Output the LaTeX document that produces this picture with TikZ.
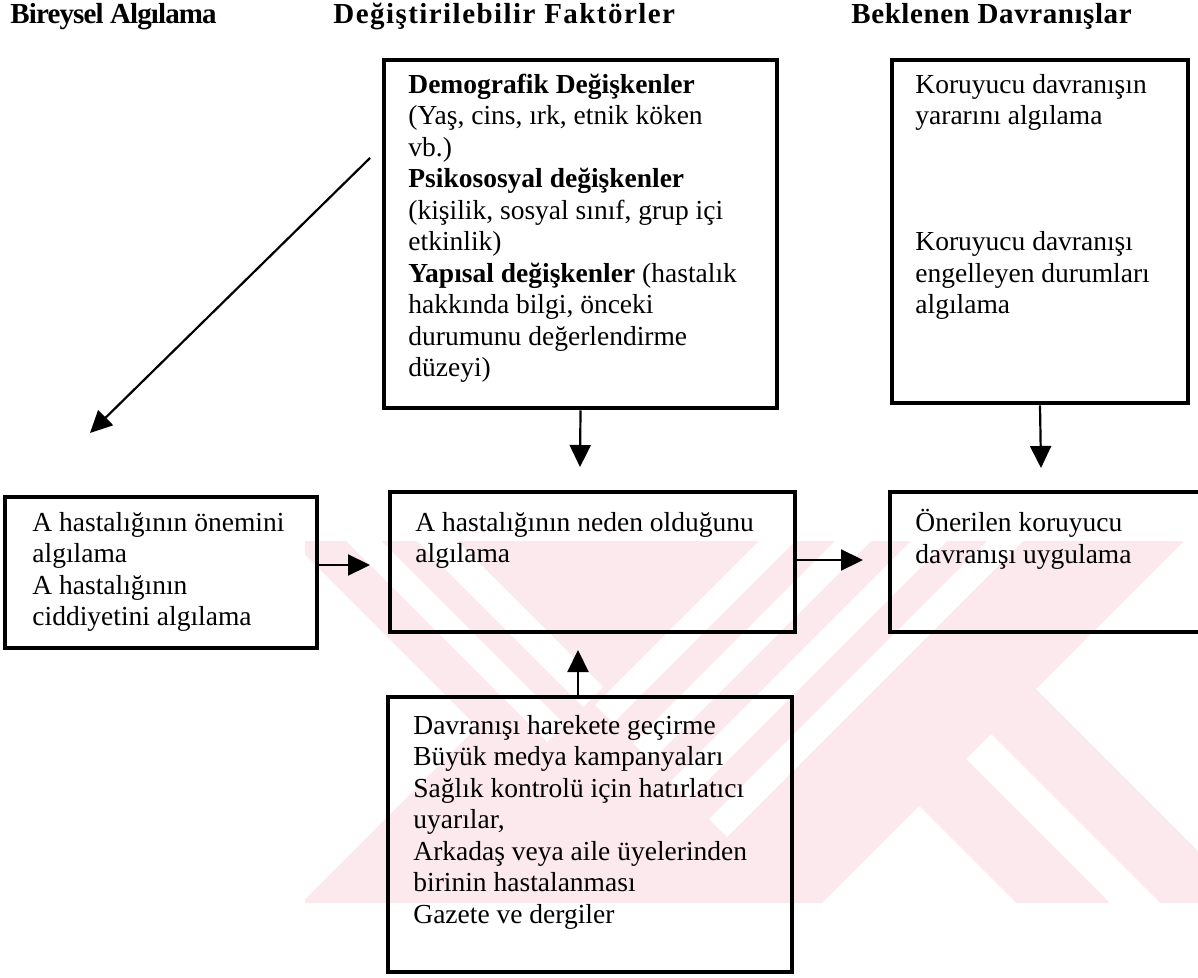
\documentclass[tikz,border=0pt]{standalone}
\usepackage{fontspec}
\setmainfont{Liberation Serif}
\usetikzlibrary{arrows.meta,fit}
\definecolor{wm}{RGB}{252,233,237}
\begin{document}
\begin{tikzpicture}[x=0.5pt,y=-0.5pt,
  box/.style={draw, line width=2.3pt, inner sep=0pt},
  txt/.style={anchor=north west, inner sep=0pt, align=left,
    font=\fontsize{13.75}{15.75}\selectfont},
  head/.style={anchor=base west, inner sep=0pt,
    font=\fontsize{14.5}{17}\selectfont\bfseries},
  conn/.style={line width=1.1pt, -{Triangle[length=11pt,width=10.5pt]}},
  gap/.style={fill=white, draw=none}]
\useasboundingbox (0,0) rectangle (1198,978);

% pale striped emblem in the background
\begin{scope}
  \fill[wm] (305,541) rectangle (1198,903);
  % open wedges between the arms
  \fill[gap] (305,555) -- (477,727) -- (305,899) -- cycle;
  \fill[gap] (822,903) -- (919,806) -- (1016,903) -- cycle;
  \fill[gap] (1036,689) -- (1184,541) -- (1198,541) -- (1198,851) -- cycle;
  \fill[gap] (966,759) -- (991,734) -- (1160,903) -- (1110,903) -- cycle;
  % thin gaps in the falling arm
  \fill[gap] (346,541) -- (381,541) -- (565,725) -- (547,742) -- cycle;
  \fill[gap] (417,541) -- (457,541) -- (603,687) -- (583,707) -- cycle;
  % thin gaps in the rising arm
  \fill[gap] (759,541) -- (795,541) -- (613,723) -- (595,705) -- cycle;
  \fill[gap] (835,541) -- (871,541) -- (651,761) -- (633,743) -- cycle;
  \fill[gap] (911,541) -- (947,541) -- (689,799) -- (671,781) -- cycle;
  \fill[gap] (987,541) -- (1023,541) -- (727,837) -- (709,819) -- cycle;
\end{scope}

% boxes
\node[box, fit={(384,60) (777,408)}] (D) {};
\node[box, fit={(892,60) (1188,403)}] (R) {};
\node[box, fit={(5,497) (317,648)}] (L) {};
\node[box, fit={(390,492) (795,632)}] (M) {};
\node[box, fit={(890,492) (1215,632)}] (O) {};
\node[box, fit={(388,697) (792,972)}] (B) {};

% column headings
\node[head] (h1) at (10,24) {\addfontfeatures{LetterSpace=-3}Bireysel Algılama};
\node[head] (h2) at (333,24) {\addfontfeatures{LetterSpace=5}Değiştirilebilir Faktörler};
\node[head] (h3) at (851,24) {\addfontfeatures{LetterSpace=2}Beklenen Davranışlar};

% box texts
\node[txt] (Dt) at (408,71) {\strut\textbf{Demografik Değişkenler}\\
  \strut(Yaş, cins, ırk, etnik köken\\
  \strut vb.)\\
  \strut\textbf{Psikososyal değişkenler}\\
  \strut(kişilik, sosyal sınıf, grup içi\\
  \strut etkinlik)\\
  \strut\textbf{Yapısal değişkenler} (hastalık\\
  \strut hakkında bilgi, önceki\\
  \strut durumunu değerlendirme\\
  \strut düzeyi)};
\node[txt] (Rt) at (915,71) {\strut Koruyucu davranışın\\
  \strut yararını algılama\\ \strut\\ \strut\\ \strut\\
  \strut Koruyucu davranışı\\
  \strut engelleyen durumları\\
  \strut algılama};
\node[txt] (Lt) at (32,509) {\strut A hastalığının önemini\\
  \strut algılama\\
  \strut A hastalığının\\
  \strut ciddiyetini algılama};
\node[txt] (Mt) at (415,509) {\strut A hastalığının neden olduğunu\\
  \strut algılama};
\node[txt] (Ot) at (915,509) {\strut Önerilen koruyucu\\
  \strut davranışı uygulama};
\node[txt] (Bt) at (413,712) {\strut Davranışı harekete geçirme\\
  \strut Büyük medya kampanyaları\\
  \strut Sağlık kontrolü için hatırlatıcı\\
  \strut uyarılar,\\
  \strut Arkadaş veya aile üyelerinden\\
  \strut birinin hastalanması\\
  \strut Gazete ve dergiler};

% connectors
\coordinate (diagS) at (370,158);
\coordinate (diagE) at (90,433);
\coordinate (dTip) at (580,467);
\coordinate (rTip) at (1041,468);
\coordinate (lmTip) at (370,565);
\coordinate (moTip) at (863,560);
\coordinate (bmTip) at (578,650);
\draw[conn] (diagS) -- (diagE);
\draw[conn] (D.south) -- (dTip);
\draw[conn] (R.south) -- (rTip);
\draw[conn] (L.east |- lmTip) -- (lmTip);
\draw[conn] (M.east |- moTip) -- (moTip);
\draw[conn] (bmTip |- B.north) -- (bmTip);
\end{tikzpicture}
\end{document}
